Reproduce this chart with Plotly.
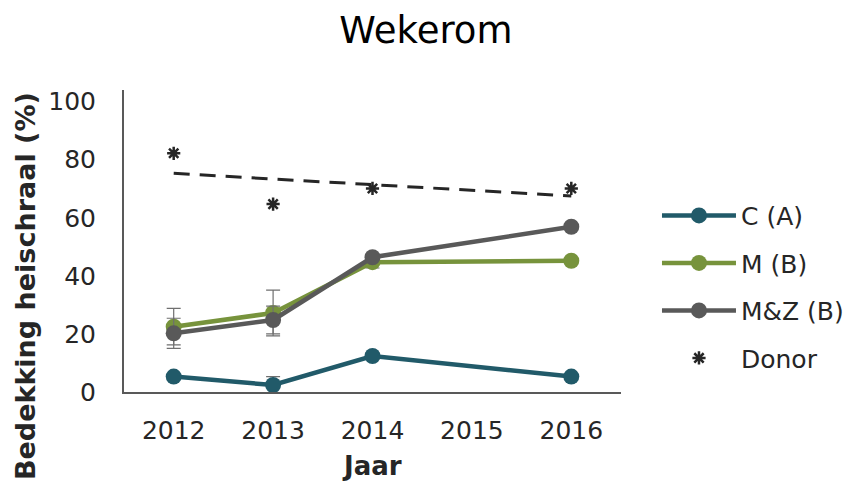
import plotly.graph_objects as go

years = ["2012", "2013", "2014", "2015", "2016"]
c_vals = [5.3, 2.4, 12.4, None, 5.3]
c_err = [0, 2.9, 1.0, 0, 0]
m_vals = [22.5, 27.2, 44.7, None, 45.2]
m_err = [6.3, 7.9, 2.0, 0, 0]
mz_vals = [20.2, 24.8, 46.4, None, 56.9]
mz_err = [5.2, 4.8, 0, 0, 0]
donor_vals = [82.2, 64.7, 70.1, None, 70.1]
trend_years = ["2012", "2016"]
trend_vals = [75.3, 67.5]

FONT = "DejaVu Sans"
TXT = "#262626"
fig = go.Figure()

def add_series(name, vals, errs, color, group):
    fig.add_trace(go.Scatter(
        x=years, y=vals, name=name, mode="lines+markers", connectgaps=True,
        line=dict(color=color, width=4.5),
        marker=dict(color=color, size=16),
        error_y=dict(type="data", array=errs, visible=True, color="#6f6f6f", thickness=1.2, width=7),
        legendgroup=group,
    ))

add_series("C (A)", c_vals, c_err, "#215A69", "a")
add_series("M (B)", m_vals, m_err, "#77933C", "b")
add_series("M&amp;Z (B)", mz_vals, mz_err, "#595959", "c")

fig.add_trace(go.Scatter(
    x=trend_years, y=trend_vals, mode="lines", showlegend=False,
    line=dict(color=TXT, width=3, dash="16px,10px"), hoverinfo="skip",
))
fig.add_trace(go.Scatter(
    x=years, y=donor_vals, name="Donor", mode="markers",
    marker=dict(symbol="asterisk-open", size=11, color=TXT, line=dict(color=TXT, width=2.5)),
    legendgroup="d",
))

fig.update_layout(
    width=846, height=474,
    paper_bgcolor="white", plot_bgcolor="white",
    margin=dict(l=116, r=233, t=82, b=90, autoexpand=False),
    font=dict(family=FONT, size=25, color=TXT),
    title=dict(text="Wekerom", x=0.494, xanchor="center", y=0.954, yanchor="middle",
               font=dict(family=FONT, size=37, color="#000000")),
    xaxis=dict(type="category", categoryorder="array", categoryarray=years,
               range=[-0.5, 4.5], showline=True, linecolor="#595959", linewidth=2,
               showgrid=False, ticks="", tickfont=dict(size=25, color=TXT), zeroline=False,
               ticklabelstandoff=15, automargin=False),
    yaxis=dict(range=[0, 104], tickvals=[0, 20, 40, 60, 80, 100], showline=True,
               linecolor="#595959", linewidth=2, showgrid=False, ticks="", zeroline=False,
               tickfont=dict(size=25, color=TXT), ticklabelstandoff=21, automargin=False),
    legend=dict(x=1.0724, y=0.66, xanchor="left", yanchor="top", tracegroupgap=12,
                itemwidth=74,
                font=dict(size=25, color=TXT), bgcolor="rgba(0,0,0,0)"),
    showlegend=True,
    annotations=[
        dict(text="<b>Bedekking heischraal (%)</b>", xref="paper", yref="paper",
             x=-0.197, y=0.351, xanchor="center", yanchor="middle", textangle=-90,
             showarrow=False, font=dict(size=27, color=TXT, family=FONT)),
        dict(text="<b>Jaar</b>", xref="paper", yref="paper", x=0.499, y=-0.245,
             xanchor="center", yanchor="middle",
             showarrow=False, font=dict(size=26, color=TXT, family=FONT)),
    ],
)

fig.write_html("out.html")
